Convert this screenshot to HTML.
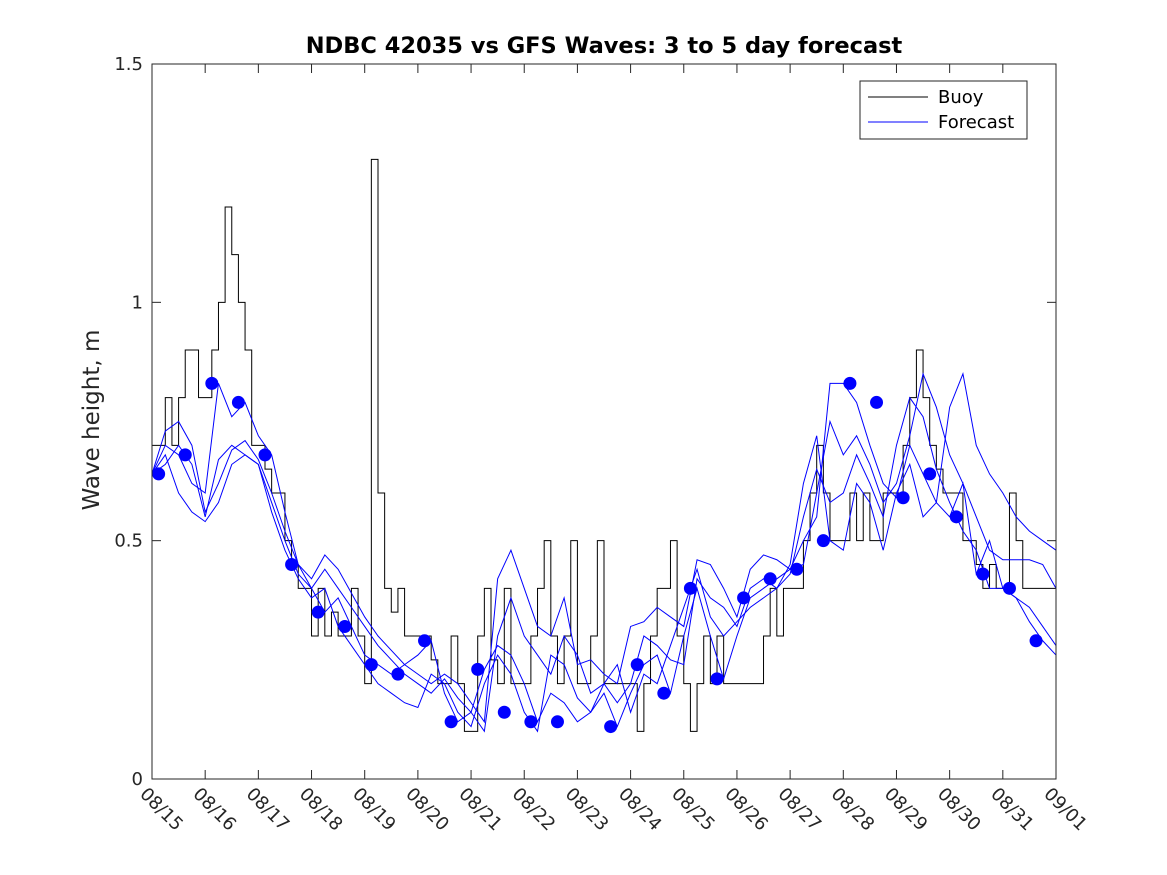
<!DOCTYPE html>
<html><head><meta charset="utf-8"><style>
html,body{margin:0;padding:0;background:#fff;}
svg{display:block;font-family:"DejaVu Sans","Liberation Sans",sans-serif;}
</style></head><body>
<svg id="chart" width="1167" height="875" viewBox="0 0 1167 875">
<rect x="0" y="0" width="1167" height="875" fill="#fff"/>
<rect x="152" y="64" width="904" height="715" fill="#fff" stroke="none"/>
<g id="marks"></g>
<rect x="152" y="64" width="904" height="715" fill="none" stroke="#262626" stroke-width="1"/>
<g id="ticks"></g>
<text x="604" y="53" text-anchor="middle" font-size="22.5" font-weight="bold" fill="#000">NDBC 42035 vs GFS Waves: 3 to 5 day forecast</text>
<text transform="translate(99,420) rotate(-90)" text-anchor="middle" font-size="23" fill="#262626">Wave height, m</text>
<g>
<rect x="860" y="81" width="167" height="58" fill="#fff" stroke="#262626" stroke-width="1"/>
<line x1="868" y1="97" x2="928" y2="97" stroke="#000"/>
<text x="938" y="103" font-size="18" fill="#000">Buoy</text>
<line x1="868" y1="122" x2="928" y2="122" stroke="#00f"/>
<text x="938" y="128" font-size="18" fill="#000">Forecast</text>
</g>
</svg>
<script>
const xTickLabels=["08/15","08/16","08/17","08/18","08/19","08/20","08/21","08/22","08/23","08/24","08/25","08/26","08/27","08/28","08/29","08/30","08/31","09/01"];
const yTickValues=[0,0.5,1,1.5];
const yTickLabels=["0","0.5","1","1.5"];
// buoy: 3-hourly values starting 08/15 00:00
const buoyValues=[
0.7,0.7,0.8,0.7,0.8,0.9,0.9,0.8,
0.8,0.9,1.0,1.2,1.1,1.0,0.9,0.7,
0.7,0.65,0.6,0.6,0.5,0.45,0.4,0.4,
0.3,0.4,0.3,0.35,0.3,0.3,0.4,0.3,
0.2,1.3,0.6,0.4,0.35,0.4,0.3,0.3,
0.3,0.3,0.25,0.2,0.2,0.3,0.2,0.1,
0.1,0.3,0.4,0.25,0.2,0.4,0.2,0.2,
0.2,0.3,0.4,0.5,0.3,0.2,0.3,0.5,
0.2,0.2,0.3,0.5,0.2,0.2,0.2,0.2,
0.2,0.1,0.2,0.3,0.4,0.4,0.5,0.3,
0.2,0.1,0.2,0.3,0.2,0.3,0.2,0.2,
0.2,0.2,0.2,0.2,0.3,0.4,0.3,0.4,
0.4,0.4,0.5,0.6,0.7,0.6,0.5,0.5,
0.5,0.6,0.5,0.6,0.5,0.5,0.6,0.6,
0.6,0.7,0.8,0.9,0.8,0.7,0.65,0.6,
0.6,0.6,0.5,0.5,0.45,0.4,0.45,0.4,
0.4,0.6,0.5,0.4,0.4,0.4,0.4,0.4,0.4];
// forecasts: 6-hourly values
const forecastA=[.64,.73,.75,.70,.56,.62,.69,.71,.67,.60,.52,.45,.42,.47,.44,.39,.34,.30,.27,.24,.22,.20,.22,.20,.16,.12,.42,.48,.40,.32,.30,.38,.24,.25,.22,.20,.32,.33,.36,.34,.32,.46,.45,.40,.34,.44,.47,.46,.44,.45,.60,.75,.68,.72,.66,.58,.62,.72,.85,.78,.68,.62,.55,.48,.46,.46,.46,.45,.40];
const forecastB=[.64,.66,.70,.66,.55,.67,.70,.68,.66,.58,.50,.43,.40,.44,.40,.36,.32,.28,.25,.22,.20,.18,.21,.17,.14,.10,.30,.38,.30,.26,.22,.30,.26,.18,.20,.16,.20,.30,.28,.25,.24,.42,.38,.36,.32,.40,.42,.40,.43,.55,.65,.58,.60,.68,.62,.55,.70,.80,.76,.65,.58,.52,.48,.40,.40,.38,.36,.32,.28];
const forecastC=[.64,.70,.68,.62,.60,.83,.76,.79,.72,.68,.56,.45,.40,.35,.38,.32,.26,.24,.22,.24,.26,.29,.18,.12,.14,.23,.28,.26,.20,.12,.18,.16,.12,.14,.18,.11,.18,.24,.26,.18,.30,.40,.30,.21,.30,.38,.40,.42,.44,.50,.55,.83,.83,.79,.70,.62,.59,.70,.64,.58,.55,.62,.43,.50,.40,.38,.33,.29,.26];
const forecastD=[.64,.68,.60,.56,.54,.58,.66,.68,.66,.56,.48,.42,.38,.40,.32,.28,.24,.20,.18,.16,.15,.22,.20,.14,.11,.20,.26,.22,.14,.10,.26,.24,.17,.14,.20,.24,.14,.22,.20,.28,.36,.44,.34,.30,.33,.36,.38,.40,.45,.62,.72,.50,.48,.62,.58,.48,.60,.66,.55,.58,.78,.85,.70,.64,.60,.55,.52,.50,.48];
// dots: every 12h starting 03:00 on 08/15 (null = missing)
const dotValues=[0.64,0.68,0.83,0.79,0.68,0.45,0.35,0.32,0.24,0.22,0.29,0.12,0.23,0.14,0.12,0.12,null,0.11,0.24,0.18,0.40,0.21,0.38,0.42,0.44,0.50,0.83,0.79,0.59,0.64,0.55,0.43,0.40,0.29];

const X0=152,X1=1056,Y0=779,Y1=64,NDAYS=17,YMAX=1.5;
const xs=d=>X0+(X1-X0)*d/NDAYS;
const ys=v=>Y0-(Y0-Y1)*v/YMAX;
const NS="http://www.w3.org/2000/svg";
const marks=document.getElementById('marks');
const ticks=document.getElementById('ticks');
function mk(tag,attrs,parent){const e=document.createElementNS(NS,tag);for(const k in attrs)e.setAttribute(k,attrs[k]);parent.appendChild(e);return e;}

let p="";
buoyValues.forEach((v,i)=>{const x=xs(i/8),y=ys(v);if(i===0)p+=`M${x},${y}`;else p+=`H${x}V${y}`;});
const buoy=mk('path',{d:p,fill:'none',stroke:'#000','stroke-width':1},marks);



[forecastA,forecastB,forecastC,forecastD].forEach((arr,k)=>{
  let d="";let started=false;
  arr.forEach((v,i)=>{if(v===null){started=false;return;}d+=(started?'L':'M')+xs(i/4)+','+ys(v);started=true;});
  const l=mk('path',{d:d,fill:'none',stroke:'#00f','stroke-width':1},marks);
  
  
});

dotValues.forEach((v,i)=>{
  if(v===null)return;
  const c=mk('circle',{cx:xs(0.125+0.5*i),cy:ys(v),r:6.5,fill:'#00f'},marks);
  
  
});

yTickValues.forEach((v,i)=>{
  const y=ys(v);
  mk('line',{x1:X0,y1:y,x2:X0+9,y2:y,stroke:'#262626'},ticks);
  mk('line',{x1:X1,y1:y,x2:X1-9,y2:y,stroke:'#262626'},ticks);
  const t=mk('text',{x:X0-9,y:y+6,'text-anchor':'end','font-size':18,fill:'#262626'},ticks);
  t.textContent=yTickLabels[i];
  
  
});
xTickLabels.forEach((lab,i)=>{
  const x=xs(i);
  mk('line',{x1:x,y1:Y0,x2:x,y2:Y0-9,stroke:'#262626'},ticks);
  mk('line',{x1:x,y1:Y1,x2:x,y2:Y1+9,stroke:'#262626'},ticks);
  const t=mk('text',{transform:`translate(${x-13},${795}) rotate(45)`,'font-size':18,fill:'#262626'},ticks);
  t.textContent=lab;
  
  
});
</script>
</body></html>
